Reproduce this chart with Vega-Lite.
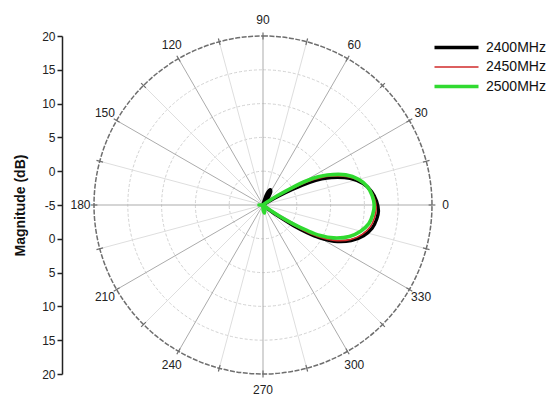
{
  "$schema": "https://vega.github.io/schema/vega-lite/v6.json",
  "width": 338,
  "height": 338,
  "autosize": "none",
  "padding": {"left": 94, "top": 36, "right": 124, "bottom": 27},
  "background": "white",
  "config": {"view": {"stroke": null}, "font": "Liberation Sans"},
  "datasets": {
    "rings": [{"r": 5}, {"r": 10}, {"r": 15}, {"r": 20}],
    "rim": [{"r": 25}],
    "spokes": [
      {"angle": 0, "major": true}, {"angle": 15, "major": false}, {"angle": 30, "major": true},
      {"angle": 45, "major": false}, {"angle": 60, "major": true}, {"angle": 75, "major": false},
      {"angle": 90, "major": true}, {"angle": 105, "major": false}, {"angle": 120, "major": true},
      {"angle": 135, "major": false}, {"angle": 150, "major": true}, {"angle": 165, "major": false},
      {"angle": 180, "major": true}, {"angle": 195, "major": false}, {"angle": 210, "major": true},
      {"angle": 225, "major": false}, {"angle": 240, "major": true}, {"angle": 255, "major": false},
      {"angle": 270, "major": true}, {"angle": 285, "major": false}, {"angle": 300, "major": true},
      {"angle": 315, "major": false}, {"angle": 330, "major": true}, {"angle": 345, "major": false}
    ],
    "labels": [
      {"angle": 0, "text": "0"}, {"angle": 30, "text": "30"}, {"angle": 60, "text": "60"},
      {"angle": 90, "text": "90"}, {"angle": 120, "text": "120"}, {"angle": 150, "text": "150"},
      {"angle": 180, "text": "180"}, {"angle": 210, "text": "210"}, {"angle": 240, "text": "240"},
      {"angle": 270, "text": "270"}, {"angle": 300, "text": "300"}, {"angle": 330, "text": "330"}
    ],
    "patterns": [
      {"freq": "2400MHz", "angle": -45, "mag": -5},
      {"freq": "2400MHz", "angle": -41, "mag": -4.7},
      {"freq": "2400MHz", "angle": -38, "mag": -3.6},
      {"freq": "2400MHz", "angle": -36, "mag": -2.0},
      {"freq": "2400MHz", "angle": -34, "mag": 0.4},
      {"freq": "2400MHz", "angle": -32, "mag": 2.7},
      {"freq": "2400MHz", "angle": -30, "mag": 4.7},
      {"freq": "2400MHz", "angle": -27, "mag": 6.8},
      {"freq": "2400MHz", "angle": -22, "mag": 9.05},
      {"freq": "2400MHz", "angle": -17, "mag": 10.55},
      {"freq": "2400MHz", "angle": -12, "mag": 11.5},
      {"freq": "2400MHz", "angle": -7, "mag": 11.95},
      {"freq": "2400MHz", "angle": -3, "mag": 12.1},
      {"freq": "2400MHz", "angle": 2, "mag": 11.8},
      {"freq": "2400MHz", "angle": 7, "mag": 11.2},
      {"freq": "2400MHz", "angle": 12, "mag": 10.16},
      {"freq": "2400MHz", "angle": 17, "mag": 8.47},
      {"freq": "2400MHz", "angle": 22, "mag": 5.87},
      {"freq": "2400MHz", "angle": 24, "mag": 4.5},
      {"freq": "2400MHz", "angle": 26, "mag": 2.66},
      {"freq": "2400MHz", "angle": 28, "mag": -0.1},
      {"freq": "2400MHz", "angle": 30, "mag": -2.4},
      {"freq": "2400MHz", "angle": 32, "mag": -3.93},
      {"freq": "2400MHz", "angle": 35, "mag": -4.69},
      {"freq": "2400MHz", "angle": 39, "mag": -5},
      {"freq": "2400MHz", "angle": 48, "mag": -4.8},
      {"freq": "2400MHz", "angle": 54, "mag": -3.7},
      {"freq": "2400MHz", "angle": 60, "mag": -2.7},
      {"freq": "2400MHz", "angle": 65, "mag": -2.5},
      {"freq": "2400MHz", "angle": 70, "mag": -3.1},
      {"freq": "2400MHz", "angle": 75, "mag": -4.3},
      {"freq": "2400MHz", "angle": 80, "mag": -5},
      {"freq": "2450MHz", "angle": -44.5, "mag": -5},
      {"freq": "2450MHz", "angle": -40.5, "mag": -4.7},
      {"freq": "2450MHz", "angle": -37.5, "mag": -3.65},
      {"freq": "2450MHz", "angle": -35.5, "mag": -2.0},
      {"freq": "2450MHz", "angle": -33.5, "mag": 0.4},
      {"freq": "2450MHz", "angle": -31.5, "mag": 2.7},
      {"freq": "2450MHz", "angle": -29.5, "mag": 4.7},
      {"freq": "2450MHz", "angle": -26.5, "mag": 6.75},
      {"freq": "2450MHz", "angle": -21.5, "mag": 8.95},
      {"freq": "2450MHz", "angle": -16.5, "mag": 10.3},
      {"freq": "2450MHz", "angle": -11.5, "mag": 11.2},
      {"freq": "2450MHz", "angle": -6.5, "mag": 11.6},
      {"freq": "2450MHz", "angle": -1.5, "mag": 11.75},
      {"freq": "2450MHz", "angle": 3.5, "mag": 11.5},
      {"freq": "2450MHz", "angle": 8.5, "mag": 10.92},
      {"freq": "2450MHz", "angle": 13.5, "mag": 9.87},
      {"freq": "2450MHz", "angle": 18.5, "mag": 8.21},
      {"freq": "2450MHz", "angle": 23.5, "mag": 5.66},
      {"freq": "2450MHz", "angle": 25.5, "mag": 4.31},
      {"freq": "2450MHz", "angle": 27.5, "mag": 2.51},
      {"freq": "2450MHz", "angle": 29.5, "mag": -0.19},
      {"freq": "2450MHz", "angle": 31.5, "mag": -2.44},
      {"freq": "2450MHz", "angle": 33.5, "mag": -3.95},
      {"freq": "2450MHz", "angle": 36.5, "mag": -4.7},
      {"freq": "2450MHz", "angle": 40.5, "mag": -5},
      {"freq": "2500MHz", "angle": -95, "mag": -5},
      {"freq": "2500MHz", "angle": -88, "mag": -4.3},
      {"freq": "2500MHz", "angle": -80, "mag": -3.8},
      {"freq": "2500MHz", "angle": -72, "mag": -4.4},
      {"freq": "2500MHz", "angle": -65, "mag": -5},
      {"freq": "2500MHz", "angle": -43, "mag": -5},
      {"freq": "2500MHz", "angle": -39, "mag": -4.7},
      {"freq": "2500MHz", "angle": -36, "mag": -3.67},
      {"freq": "2500MHz", "angle": -34, "mag": -2.04},
      {"freq": "2500MHz", "angle": -32, "mag": 0.33},
      {"freq": "2500MHz", "angle": -30, "mag": 2.6},
      {"freq": "2500MHz", "angle": -28, "mag": 4.6},
      {"freq": "2500MHz", "angle": -25, "mag": 6.5},
      {"freq": "2500MHz", "angle": -20, "mag": 8.6},
      {"freq": "2500MHz", "angle": -15, "mag": 9.95},
      {"freq": "2500MHz", "angle": -10, "mag": 10.9},
      {"freq": "2500MHz", "angle": -5, "mag": 11.3},
      {"freq": "2500MHz", "angle": 0, "mag": 11.45},
      {"freq": "2500MHz", "angle": 5, "mag": 11.2},
      {"freq": "2500MHz", "angle": 10, "mag": 10.68},
      {"freq": "2500MHz", "angle": 15, "mag": 9.64},
      {"freq": "2500MHz", "angle": 20, "mag": 8.02},
      {"freq": "2500MHz", "angle": 25, "mag": 5.5},
      {"freq": "2500MHz", "angle": 27, "mag": 4.17},
      {"freq": "2500MHz", "angle": 29, "mag": 2.4},
      {"freq": "2500MHz", "angle": 31, "mag": -0.27},
      {"freq": "2500MHz", "angle": 33, "mag": -2.49},
      {"freq": "2500MHz", "angle": 35, "mag": -3.96},
      {"freq": "2500MHz", "angle": 38, "mag": -4.7},
      {"freq": "2500MHz", "angle": 42, "mag": -5},
      {"freq": "2500MHz", "angle": 172, "mag": -5},
      {"freq": "2500MHz", "angle": 180, "mag": -4.4},
      {"freq": "2500MHz", "angle": 188, "mag": -5}
    ]
  },
  "layer": [
    {
      "data": {"name": "rings"},
      "mark": {"type": "arc", "theta": 0, "theta2": 6.2832, "filled": false, "stroke": "#d2d2d2", "strokeWidth": 1, "strokeDash": [3, 2]},
      "encoding": {
        "radius": {"field": "r", "type": "quantitative", "stack": null, "scale": {"type": "linear", "domain": [0, 25], "range": [0, 169], "zero": true}, "legend": null}
      }
    },
    {
      "data": {"name": "spokes"},
      "transform": [
        {"calculate": "0", "as": "x0"},
        {"calculate": "0", "as": "y0"},
        {"calculate": "25*cos(datum.angle*PI/180)", "as": "x1"},
        {"calculate": "25*sin(datum.angle*PI/180)", "as": "y1"}
      ],
      "mark": {"type": "rule", "strokeWidth": 1},
      "encoding": {
        "x": {"field": "x0", "type": "quantitative", "scale": {"domain": [-25, 25]}, "axis": null},
        "y": {
          "field": "y0",
          "type": "quantitative",
          "scale": {"domain": [-25, 25]},
          "axis": {
            "values": [-25, -20, -15, -10, -5, 0, 5, 10, 15, 20, 25],
            "tickCount": 20,
            "labelExpr": "'' + (abs(datum.value) - 5)",
            "labelOverlap": false,
            "offset": 32,
            "grid": false,
            "domainColor": "#222",
            "domainWidth": 1.5,
            "tickColor": "#222",
            "tickWidth": 1.5,
            "tickSize": 5,
            "labelFontSize": 12,
            "labelColor": "#222",
            "labelPadding": 2,
            "title": "Magnitude (dB)",
            "titleFontSize": 14,
            "titleFontWeight": "bold",
            "titleColor": "#111",
            "titlePadding": 14
          }
        },
        "x2": {"field": "x1"},
        "y2": {"field": "y1"},
        "stroke": {"condition": {"test": "datum.major", "value": "#ababab"}, "value": "#dedede"}
      }
    },
    {
      "data": {"name": "rim"},
      "mark": {"type": "arc", "theta": 0, "theta2": 6.2832, "filled": false, "stroke": "#6e6e6e", "strokeWidth": 1.5, "strokeDash": [5, 1.5]},
      "encoding": {
        "radius": {"field": "r", "type": "quantitative", "stack": null, "scale": {"type": "linear", "domain": [0, 25], "range": [0, 169], "zero": true}, "legend": null}
      }
    },
    {
      "data": {"name": "spokes"},
      "transform": [
        {"calculate": "24.5*cos(datum.angle*PI/180)", "as": "x0"},
        {"calculate": "24.5*sin(datum.angle*PI/180)", "as": "y0"},
        {"calculate": "25.5*cos(datum.angle*PI/180)", "as": "x1"},
        {"calculate": "25.5*sin(datum.angle*PI/180)", "as": "y1"}
      ],
      "mark": {"type": "rule", "stroke": "#6e6e6e", "strokeWidth": 1.2},
      "encoding": {
        "x": {"field": "x0", "type": "quantitative"},
        "y": {"field": "y0", "type": "quantitative"},
        "x2": {"field": "x1"},
        "y2": {"field": "y1"}
      }
    },
    {
      "data": {"name": "labels"},
      "transform": [
        {"calculate": "27*cos(datum.angle*PI/180)", "as": "lx"},
        {"calculate": "27.3*sin(datum.angle*PI/180)", "as": "ly"}
      ],
      "mark": {"type": "text", "fontSize": 12, "color": "#222", "align": "center", "baseline": "middle"},
      "encoding": {
        "x": {"field": "lx", "type": "quantitative"},
        "y": {"field": "ly", "type": "quantitative"},
        "text": {"field": "text"}
      }
    },
    {
      "data": {"name": "patterns"},
      "transform": [
        {"calculate": "(datum.mag+5)*cos(datum.angle*PI/180)", "as": "x"},
        {"calculate": "(datum.mag+5)*sin(datum.angle*PI/180)", "as": "y"}
      ],
      "mark": {"type": "line", "interpolate": "catmull-rom", "strokeJoin": "round", "strokeCap": "round"},
      "encoding": {
        "x": {"field": "x", "type": "quantitative"},
        "y": {"field": "y", "type": "quantitative"},
        "order": {"field": "angle", "type": "quantitative"},
        "color": {
          "field": "freq",
          "type": "nominal",
          "scale": {"domain": ["2400MHz", "2450MHz", "2500MHz"], "range": ["#000000", "#d02a2a", "#30da30"]},
          "legend": {
            "title": null,
            "orient": "none",
            "legendX": 355,
            "legendY": 4,
            "symbolType": "M-4,0H4",
            "symbolSize": 121,
            "labelFontSize": 14,
            "labelColor": "#111",
            "labelOffset": 22,
            "rowPadding": 5
          }
        },
        "strokeWidth": {
          "field": "freq",
          "type": "nominal",
          "scale": {"type": "ordinal", "domain": ["2400MHz", "2450MHz", "2500MHz"], "range": [3.4, 1.6, 3.6]},
          "legend": {
            "title": null,
            "orient": "none",
            "legendX": 355,
            "legendY": 4,
            "symbolType": "M-4,0H4",
            "symbolSize": 121,
            "labelFontSize": 14,
            "labelColor": "#111",
            "labelOffset": 22,
            "rowPadding": 5
          }
        }
      }
    }
  ]
}
